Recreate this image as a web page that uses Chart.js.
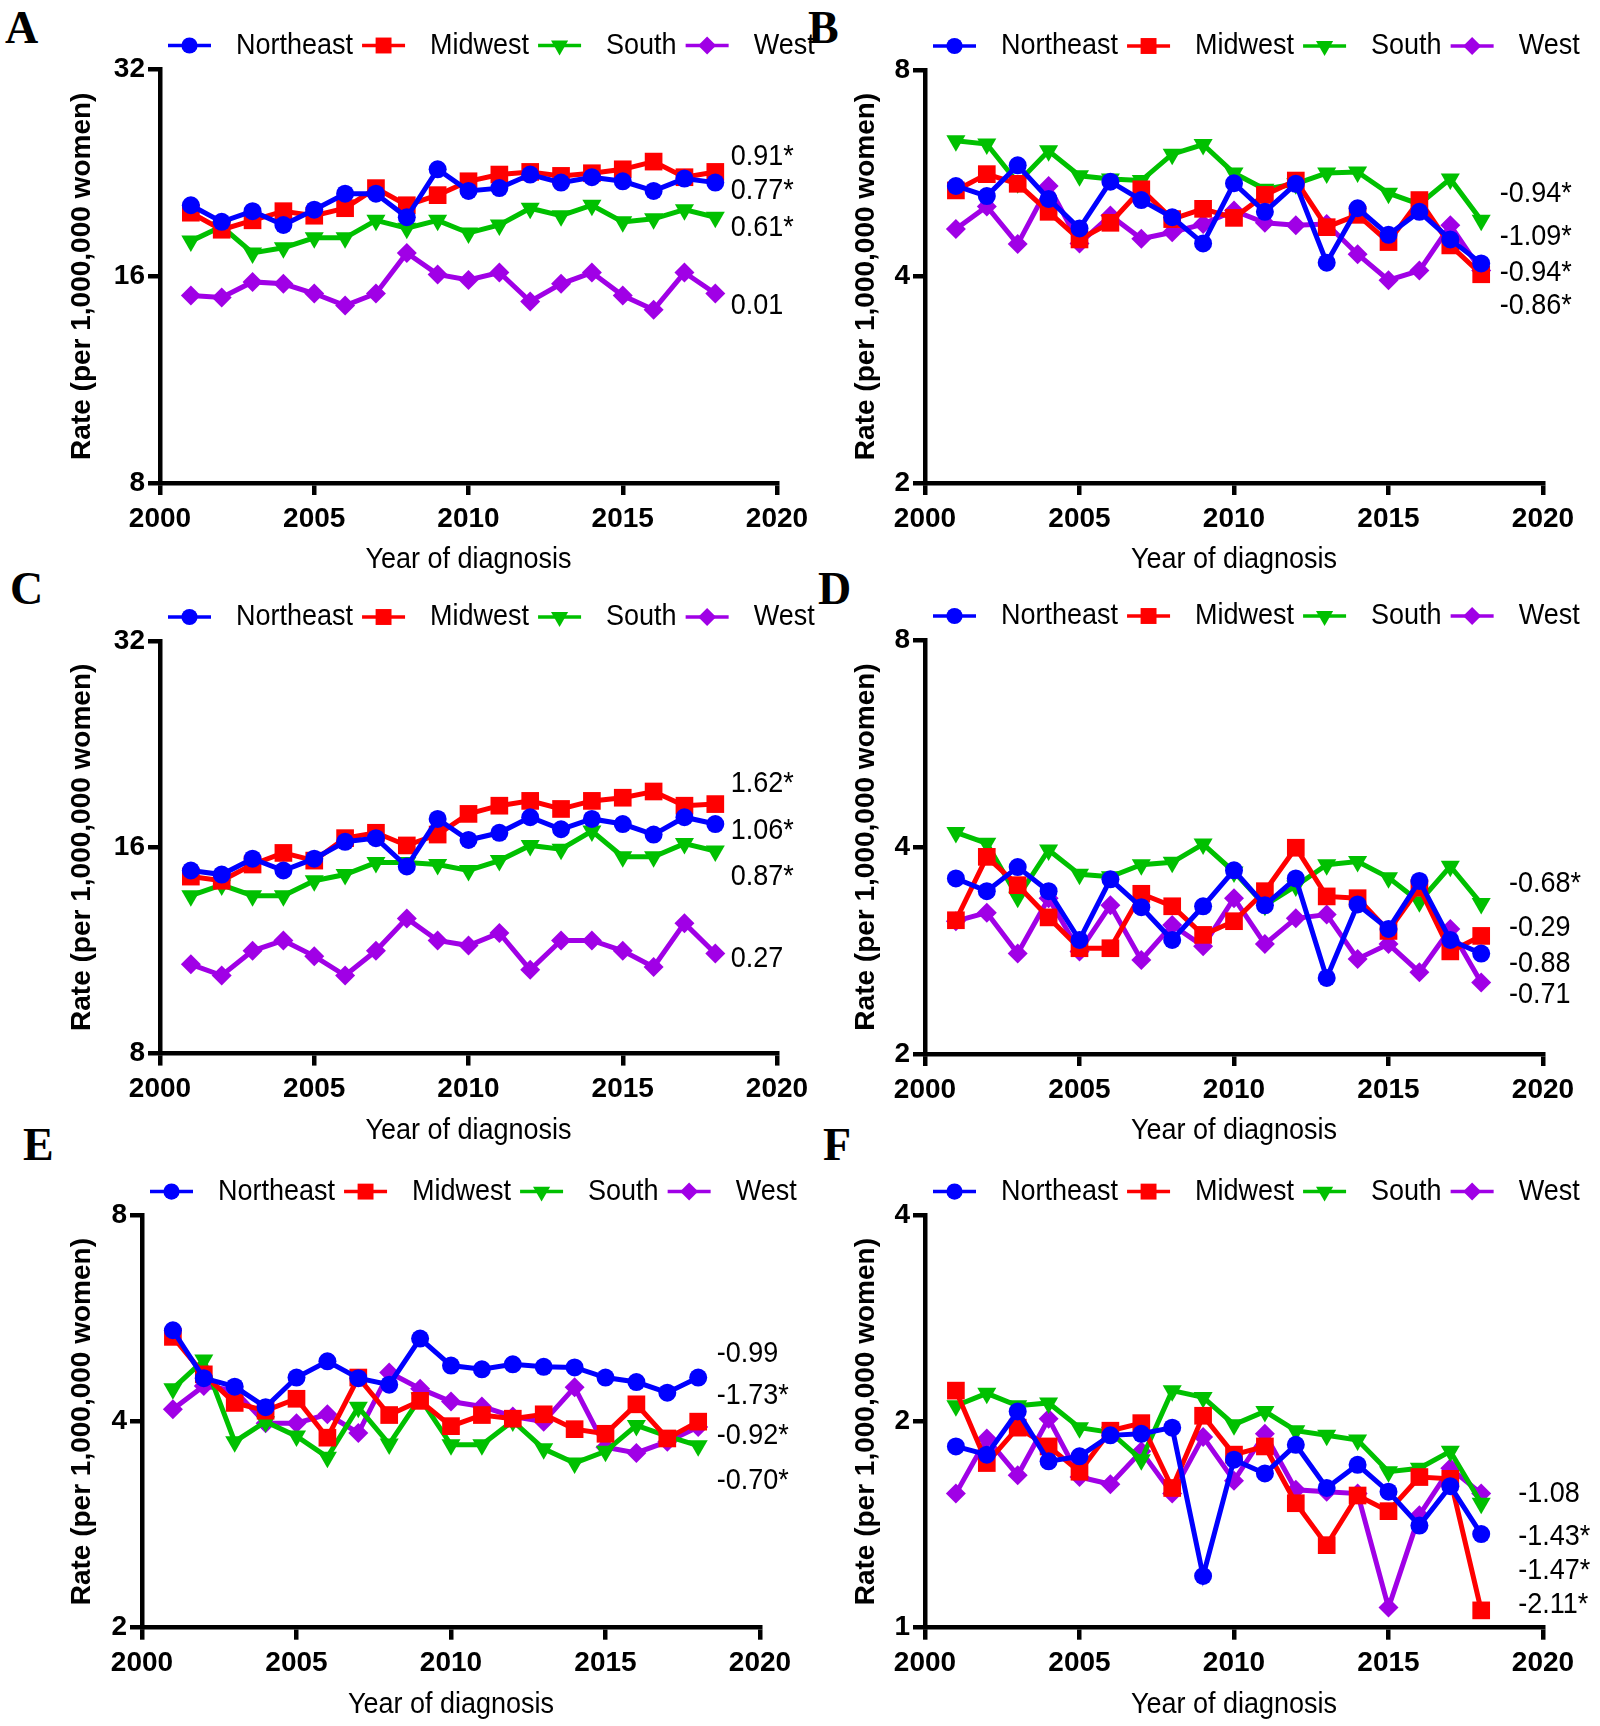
<!DOCTYPE html>
<html>
<head>
<meta charset="utf-8">
<script src="https://cdn.jsdelivr.net/npm/chart.js@4.4.0/dist/chart.umd.min.js"></script>
<style>
  body { margin: 0; background: #fff; width: 1600px; height: 1726px; position: relative; overflow: hidden; }
  canvas { position: absolute; }
  .tag { position: absolute; font: bold 46px "Liberation Serif", "Times New Roman", serif; line-height: 46px; color: #000; }
</style>
</head>
<body>
<div class="tag" style="left:5px;top:5px">A</div>
<div class="tag" style="left:808px;top:5px">B</div>
<div class="tag" style="left:10px;top:566px">C</div>
<div class="tag" style="left:818px;top:566px">D</div>
<div class="tag" style="left:23px;top:1122px">E</div>
<div class="tag" style="left:823px;top:1122px">F</div>
<script>
const years = [2001, 2002, 2003, 2004, 2005, 2006, 2007, 2008, 2009, 2010, 2011, 2012, 2013, 2014, 2015, 2016, 2017, 2018];
const regionNames = ['Northeast', 'Midwest', 'South', 'West'];
const regionColors = ['#0000FF', '#FF0000', '#00C000', '#A000E6'];
const markerStyles = ['circle', 'rect', 'triangle', 'rectRot'];
const markerRotation = [0, 0, 180, 0];
const markerRadius = [9, 12.5, 11, 10];

// panel A
const neA = [20.3, 19.2, 19.9, 19.0, 20.0, 21.1, 21.1, 19.5, 22.9, 21.3, 21.5, 22.5, 21.9, 22.3, 22.0, 21.3, 22.2, 21.9];
const mwA = [19.8, 18.7, 19.3, 19.9, 19.6, 20.1, 21.5, 20.3, 21.0, 22.0, 22.5, 22.7, 22.4, 22.6, 22.9, 23.5, 22.3, 22.7];
const soA = [18.0, 18.9, 17.3, 17.6, 18.2, 18.2, 19.3, 18.8, 19.3, 18.5, 19.0, 20.1, 19.6, 20.3, 19.2, 19.4, 20.0, 19.5];
const wsA = [15.0, 14.9, 15.7, 15.6, 15.1, 14.5, 15.1, 17.3, 16.1, 15.8, 16.2, 14.7, 15.6, 16.2, 15.0, 14.3, 16.2, 15.1];
const apcA = ['0.91*', '0.77*', '0.61*', '0.01'];
const apcAtA = [23.9, 21.3, 18.8, 14.5];

// panel B
const neB = [5.42, 5.24, 5.81, 5.19, 4.70, 5.50, 5.17, 4.88, 4.47, 5.47, 4.97, 5.46, 4.19, 5.03, 4.60, 4.97, 4.53, 4.18];
const mwB = [5.34, 5.64, 5.46, 4.97, 4.53, 4.79, 5.36, 4.85, 5.02, 4.87, 5.26, 5.52, 4.72, 4.92, 4.49, 5.17, 4.44, 4.03];
const soB = [6.31, 6.24, 5.48, 6.10, 5.61, 5.55, 5.52, 6.03, 6.23, 5.66, 5.36, 5.46, 5.66, 5.68, 5.29, 5.10, 5.55, 4.83];
const wsB = [4.69, 5.06, 4.46, 5.42, 4.47, 4.91, 4.54, 4.64, 4.77, 4.99, 4.79, 4.75, 4.77, 4.31, 3.95, 4.08, 4.75, 4.08];
const apcB = ['-0.94*', '-1.09*', '-0.94*', '-0.86*'];
const apcAtB = [5.28, 4.57, 4.05, 3.63];

// panel C
const neC = [14.8, 14.6, 15.4, 14.8, 15.4, 16.3, 16.5, 15.0, 17.6, 16.4, 16.8, 17.7, 17.0, 17.6, 17.3, 16.7, 17.7, 17.3];
const mwC = [14.5, 14.3, 15.1, 15.7, 15.3, 16.5, 16.8, 16.1, 16.7, 17.9, 18.4, 18.7, 18.2, 18.7, 18.9, 19.3, 18.4, 18.5];
const soC = [13.6, 14.1, 13.6, 13.6, 14.3, 14.6, 15.2, 15.2, 15.1, 14.8, 15.3, 16.1, 15.9, 16.9, 15.5, 15.5, 16.2, 15.8];
const wsC = [10.8, 10.4, 11.3, 11.7, 11.1, 10.4, 11.3, 12.6, 11.7, 11.5, 12.0, 10.6, 11.7, 11.7, 11.3, 10.7, 12.4, 11.2];
const apcC = ['1.62*', '1.06*', '0.87*', '0.27'];
const apcAtC = [19.8, 16.9, 14.5, 11.0];

// panel D
const neD = [3.60, 3.45, 3.74, 3.45, 2.93, 3.59, 3.27, 2.93, 3.28, 3.70, 3.29, 3.60, 2.58, 3.30, 3.04, 3.57, 2.93, 2.80];
const mwD = [3.13, 3.87, 3.52, 3.16, 2.85, 2.85, 3.42, 3.28, 2.98, 3.12, 3.45, 3.99, 3.39, 3.37, 3.02, 3.49, 2.82, 2.97];
const soD = [4.20, 4.05, 3.38, 3.96, 3.65, 3.62, 3.77, 3.80, 4.04, 3.68, 3.29, 3.51, 3.77, 3.81, 3.61, 3.33, 3.75, 3.31];
const wsD = [3.12, 3.21, 2.80, 3.37, 2.82, 3.29, 2.74, 3.08, 2.87, 3.37, 2.89, 3.15, 3.19, 2.75, 2.89, 2.63, 3.04, 2.54];
const apcD = ['-0.68*', '-0.29', '-0.88', '-0.71'];
const apcAtD = [3.54, 3.05, 2.71, 2.44];

// panel E
const neE = [5.44, 4.63, 4.50, 4.20, 4.64, 4.90, 4.63, 4.53, 5.29, 4.83, 4.77, 4.85, 4.81, 4.80, 4.64, 4.57, 4.41, 4.64];
const mwE = [5.32, 4.69, 4.26, 4.15, 4.32, 3.79, 4.64, 4.09, 4.29, 3.94, 4.09, 4.04, 4.10, 3.90, 3.84, 4.24, 3.78, 4.00];
const soE = [4.47, 4.92, 3.74, 4.00, 3.81, 3.55, 4.20, 3.71, 4.33, 3.70, 3.70, 4.01, 3.65, 3.48, 3.62, 3.95, 3.81, 3.69];
const wsE = [4.17, 4.51, 4.44, 3.98, 3.98, 4.10, 3.85, 4.72, 4.47, 4.28, 4.21, 4.07, 4.00, 4.49, 3.67, 3.60, 3.74, 3.93];
const apcE = ['-0.99', '-1.73*', '-0.92*', '-0.70*'];
const apcAtE = [5.03, 4.36, 3.81, 3.28];

// panel F
const neF = [1.84, 1.79, 2.07, 1.75, 1.78, 1.91, 1.92, 1.96, 1.19, 1.76, 1.68, 1.85, 1.60, 1.73, 1.58, 1.41, 1.61, 1.37];
const mwF = [2.22, 1.74, 1.96, 1.84, 1.69, 1.94, 1.99, 1.60, 2.04, 1.79, 1.84, 1.52, 1.32, 1.56, 1.48, 1.66, 1.65, 1.06];
const soF = [2.11, 2.20, 2.11, 2.13, 1.96, 1.93, 1.76, 2.22, 2.17, 1.98, 2.07, 1.94, 1.91, 1.88, 1.69, 1.71, 1.81, 1.52];
const wsF = [1.57, 1.89, 1.67, 2.02, 1.66, 1.62, 1.81, 1.57, 1.90, 1.64, 1.92, 1.59, 1.58, 1.57, 1.07, 1.46, 1.71, 1.57];
const apcF = ['-1.08', '-1.43*', '-1.47*', '-2.11*'];
const apcAtF = [1.57, 1.36, 1.21, 1.08];

const FONT = '"Liberation Sans", Arial, sans-serif';
const NARROW = 0.9;   // the regular text in the figure is a little condensed

// page layout: canvas box, plot area (page px), title positions
const panels = [
    {id: 'A', left: 0, top: 0, w: 860, h: 600, area: [160, 69.5, 777, 483], yTitleX: 82, xTitleY: 560,
     yMin: 8, yMax: 32, yTicks: [8, 16, 32], series: [neA, mwA, soA, wsA], apc: apcA, apcAt: apcAtA, apcYear: 2018.5},
    {id: 'B', left: 780, top: 0, w: 820, h: 600, area: [925, 70, 1543, 483], yTitleX: 866, xTitleY: 560,
     yMin: 2, yMax: 8, yTicks: [2, 4, 8], series: [neB, mwB, soB, wsB], apc: apcB, apcAt: apcAtB, apcYear: 2018.6},
    {id: 'C', left: 0, top: 560, w: 860, h: 600, area: [160, 641, 777, 1053.6], yTitleX: 82, xTitleY: 1131,
     yMin: 8, yMax: 32, yTicks: [8, 16, 32], series: [neC, mwC, soC, wsC], apc: apcC, apcAt: apcAtC, apcYear: 2018.5},
    {id: 'D', left: 780, top: 560, w: 820, h: 600, area: [925, 640, 1543, 1054], yTitleX: 866, xTitleY: 1131,
     yMin: 2, yMax: 8, yTicks: [2, 4, 8], series: [neD, mwD, soD, wsD], apc: apcD, apcAt: apcAtD, apcYear: 2018.9},
    {id: 'E', left: 0, top: 1120, w: 860, h: 606, area: [142, 1215.6, 760, 1627.7], yTitleX: 82, xTitleY: 1705,
     yMin: 2, yMax: 8, yTicks: [2, 4, 8], series: [neE, mwE, soE, wsE], apc: apcE, apcAt: apcAtE, apcYear: 2018.6},
    {id: 'F', left: 780, top: 1120, w: 820, h: 606, area: [925, 1215.6, 1543, 1627.7], yTitleX: 866, xTitleY: 1705,
     yMin: 1, yMax: 4, yTicks: [1, 2, 4], series: [neF, mwF, soF, wsF], apc: apcF, apcAt: apcAtF, apcYear: 2019.2}
];

function narrowText(ctx, text, x, y) {
    ctx.save();
    ctx.translate(x, y);
    ctx.scale(NARROW, 1);
    ctx.fillText(text, 0, 0);
    ctx.restore();
    return ctx.measureText(text).width * NARROW;
}

// legend (line + marker) above the plot, APC labels at the right, x title below
function makeDecor(p) {
    return {
        id: 'decor' + p.id,
        afterDraw(chart) {
            const ctx = chart.ctx;
            const area = chart.chartArea;
            ctx.save();
            ctx.font = '30px ' + FONT;
            ctx.textBaseline = 'middle';
            ctx.textAlign = 'left';
            let x = area.left + 8;
            const y = area.top - 24;
            regionNames.forEach((name, i) => {
                ctx.strokeStyle = regionColors[i];
                ctx.lineWidth = 3.5;
                ctx.beginPath();
                ctx.moveTo(x, y);
                ctx.lineTo(x + 43, y);
                ctx.stroke();
                ctx.fillStyle = regionColors[i];
                Chart.helpers.drawPoint(ctx, {
                    pointStyle: markerStyles[i],
                    rotation: markerRotation[i],
                    radius: markerRadius[i] * 0.9,
                    borderWidth: 0
                }, x + 21.5, y);
                ctx.fillStyle = '#000';
                const tw = narrowText(ctx, name, x + 68, y);
                x += 68 + tw + 9;
            });
            const xs = chart.scales.x;
            const ys = chart.scales.y;
            p.apc.forEach((t, i) => {
                narrowText(ctx, t, xs.getPixelForValue(p.apcYear), ys.getPixelForValue(p.apcAt[i]));
            });
            ctx.textAlign = 'center';
            narrowText(ctx, 'Year of diagnosis', (area.left + area.right) / 2, p.xTitleY - p.top);
            ctx.restore();
        }
    };
}

const axisGrid = {drawOnChartArea: false, drawTicks: true, tickLength: 12, color: '#000', lineWidth: 4.5};
const axisBorder = {display: true, color: '#000', width: 4.5};

panels.forEach(p => {
    const cv = document.createElement('canvas');
    cv.width = p.w;
    cv.height = p.h;
    cv.style.left = p.left + 'px';
    cv.style.top = p.top + 'px';
    document.body.appendChild(cv);

    const [aL, aT, aR, aB] = p.area;
    const padLeft = p.yTitleX - p.left - 16.8;
    const yWidth = (aL - p.left) - padLeft;
    const padTop = aT - p.top;
    const padRight = p.w - (aR - p.left);
    const xBottom = p.xTitleY - p.top + 18;
    const xHeight = xBottom - (aB - p.top);
    const padBottom = p.h - xBottom;

    new Chart(cv, {
        type: 'line',
        data: {
            labels: years,
            datasets: p.series.map((d, i) => ({
                label: regionNames[i],
                data: d,
                borderColor: regionColors[i],
                backgroundColor: regionColors[i],
                borderWidth: 5,
                tension: 0,
                pointStyle: markerStyles[i],
                pointRotation: markerRotation[i],
                pointRadius: markerRadius[i],
                pointBorderWidth: 0,
                pointBackgroundColor: regionColors[i],
                clip: false
            }))
        },
        options: {
            responsive: false,
            animation: false,
            devicePixelRatio: 1,
            events: [],
            layout: {padding: {left: padLeft, top: padTop, right: padRight, bottom: padBottom}},
            plugins: {legend: {display: false}, tooltip: {enabled: false}},
            scales: {
                x: {
                    type: 'linear',
                    min: 2000,
                    max: 2020,
                    afterFit: s => { s.height = xHeight; },
                    ticks: {
                        stepSize: 5, padding: 7, color: '#000', maxRotation: 0, autoSkip: false,
                        font: {family: FONT, size: 28, weight: 'bold'},
                        callback: v => String(v)
                    },
                    grid: axisGrid,
                    border: axisBorder
                },
                y: {
                    type: 'logarithmic',
                    min: p.yMin,
                    max: p.yMax,
                    afterFit: s => { s.width = yWidth; },
                    afterBuildTicks: s => { s.ticks = p.yTicks.map(v => ({value: v})); },
                    ticks: {
                        padding: 3, color: '#000',
                        font: {family: FONT, size: 28, weight: 'bold'},
                        callback: v => String(v)
                    },
                    grid: axisGrid,
                    border: axisBorder,
                    title: {display: true, text: 'Rate (per 1,000,000 women)', color: '#000', padding: 0,
                            font: {family: FONT, size: 28, weight: 'bold'}}
                }
            }
        },
        plugins: [makeDecor(p)]
    });
});
</script>
</body>
</html>
